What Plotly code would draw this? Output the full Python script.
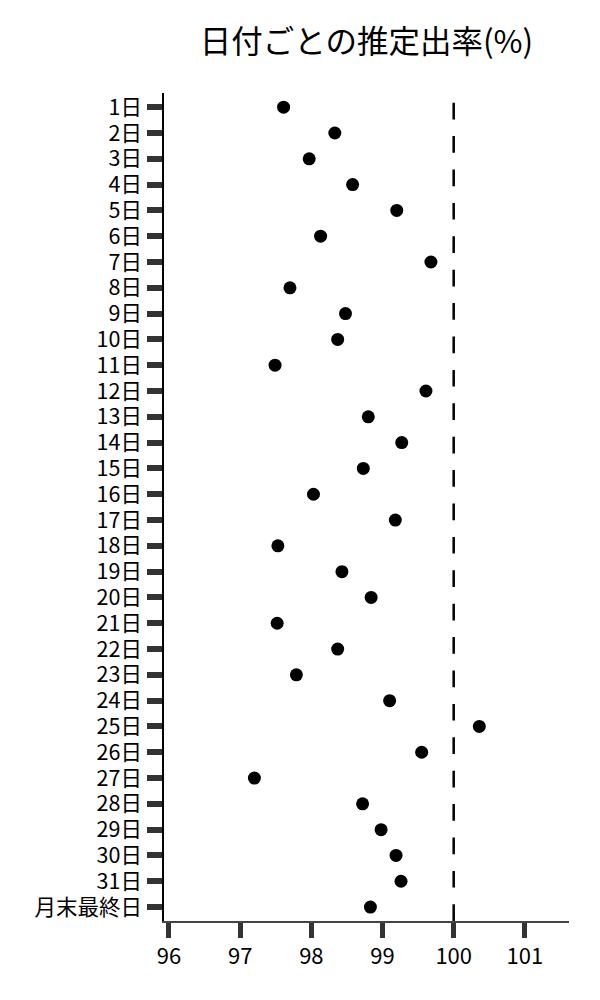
import plotly.graph_objects as go

# 日付ラベルと推定出率(%)
days = [f"{d}日" for d in range(1, 32)] + ["月末最終日"]
rates = [
    97.61, 98.33, 97.97, 98.58, 99.20, 98.13, 99.68, 97.70,
    98.48, 98.37, 97.49, 99.61, 98.80, 99.27, 98.73, 98.03,
    99.18, 97.53, 98.43, 98.84, 97.52, 98.37, 97.79, 99.10,
    100.36, 99.55, 97.20, 98.72, 98.98, 99.19, 99.26, 98.83,
]
x_ticks = [96, 97, 98, 99, 100, 101]
ref_rate = 100

font_name = "Noto Sans CJK JP"

fig = go.Figure()
fig.add_trace(go.Scatter(
    x=rates,
    y=days,
    mode="markers",
    marker=dict(color="black", size=13),
    showlegend=False,
))

# 100% の基準線(下から描く)
fig.add_shape(
    type="line", xref="x", yref="paper",
    x0=ref_rate, x1=ref_rate, y0=0, y1=1,
    line=dict(color="black", width=2.5, dash="16.7px,16.7px"),
)

# body の余白 8px を差し引いた大きさ
fig.update_layout(
    width=592, height=992,
    margin=dict(l=156, r=31, t=85, b=79),
    paper_bgcolor="white",
    plot_bgcolor="white",
    font=dict(family=font_name, size=21.5, color="black"),
    title=dict(
        text="日付ごとの推定出率(%)",
        x=0.5, xref="paper", xanchor="center",
        y=1 - 34 / 992, yanchor="middle",
        font=dict(family=font_name, size=31.5, color="black"),
    ),
)

fig.update_xaxes(
    range=[95.93, 101.62],
    tickmode="array", tickvals=x_ticks,
    ticks="outside", ticklen=15, tickwidth=5, tickcolor="#333333",
    showline=True, linecolor="#444444", linewidth=1.5,
    showgrid=False, zeroline=False,
    tickfont=dict(size=22, color="black"),
)
fig.update_yaxes(
    categoryorder="array", categoryarray=days,
    tickmode="array", tickvals=days, ticktext=days,
    range=[len(days) - 0.46, -0.55],
    ticks="outside", ticklen=15, tickwidth=6, tickcolor="#333333",
    showline=True, linecolor="black", linewidth=1.5,
    showgrid=False, zeroline=False,
    ticklabelstandoff=1,
    tickfont=dict(size=21.5, color="black"),
)

fig.write_html("out.html")
